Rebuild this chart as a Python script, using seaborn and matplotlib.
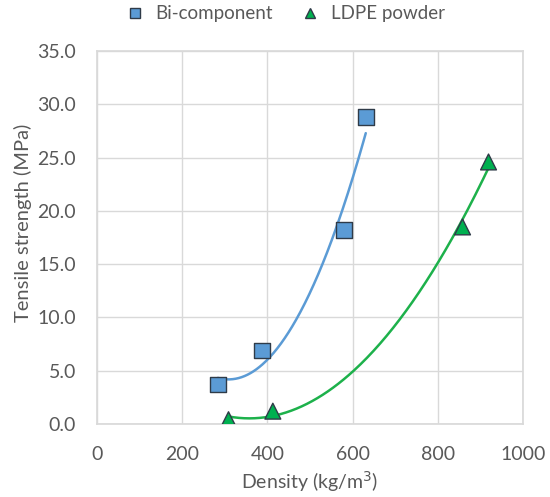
import numpy as np
import pandas as pd
import matplotlib
matplotlib.use("Agg")
import matplotlib.pyplot as plt
import seaborn as sns

bi_density = [284, 387, 579, 631]
bi_strength = [3.7, 6.9, 18.2, 28.8]
ldpe_density = [309, 413, 858, 919]
ldpe_strength = [0.4, 1.2, 18.5, 24.6]

sns.set_theme(style="white")
plt.rcParams['font.family'] = ['Lato', 'DejaVu Sans']
txt = "#595959"

fig = plt.figure(figsize=(5.5, 4.97), dpi=100)
ax = fig.add_axes([0.176, 0.147, 0.775, 0.750])

blue = "#5B9BD5"
green = "#1DB14B"

# trendlines (2nd-order polynomial)
for xs, ys, c in [(bi_density, bi_strength, blue), (ldpe_density, ldpe_strength, green)]:
    p = np.polyfit(xs, ys, 2)
    xx = np.linspace(min(xs), max(xs), 200)
    sns.lineplot(x=xx, y=np.polyval(p, xx), ax=ax, color=c, lw=1.8, zorder=3)

df = pd.DataFrame({
    "x": bi_density + ldpe_density,
    "y": bi_strength + ldpe_strength,
    "s": ["Bi-component"] * 4 + ["LDPE powder"] * 4,
})
sns.scatterplot(data=df, x="x", y="y", hue="s", style="s",
                markers={"Bi-component": "s", "LDPE powder": "^"},
                palette={"Bi-component": blue, "LDPE powder": "#00B050"},
                s=130, edgecolor="#2F3B48", linewidth=1.0, ax=ax, zorder=4)

ax.set_xlim(0, 1000)
ax.set_ylim(0, 35)
ax.set_xticks(range(0, 1001, 200))
ax.set_yticks(np.arange(0, 35.1, 5))
ax.set_yticklabels([f"{v:.1f}" for v in np.arange(0, 35.1, 5)])
ax.grid(True, color="#D9D9D9", lw=1)
ax.set_axisbelow(True)
for sp in ax.spines.values():
    sp.set_color("#D9D9D9")
ax.tick_params(colors=txt, labelsize=14, length=0)
ax.tick_params(axis="x", pad=16)
ax.tick_params(axis="y", pad=15)
ax.set_xlabel("Density (kg/m$^3$)", color=txt, fontsize=14, labelpad=4)
ax.set_ylabel("Tensile strength (MPa)", color=txt, fontsize=14.5)
ax.yaxis.set_label_coords(-0.153, 0.54)

h, l = ax.get_legend_handles_labels()
ax.get_legend().remove()
leg = fig.legend(h, l, loc="center", bbox_to_anchor=(0.51, 0.972), ncol=2,
                 frameon=False, fontsize=13.5, handletextpad=0.1, columnspacing=1.0,
                 markerscale=0.65)
for t in leg.get_texts():
    t.set_color(txt)

fig.savefig("out.png", dpi=100)
